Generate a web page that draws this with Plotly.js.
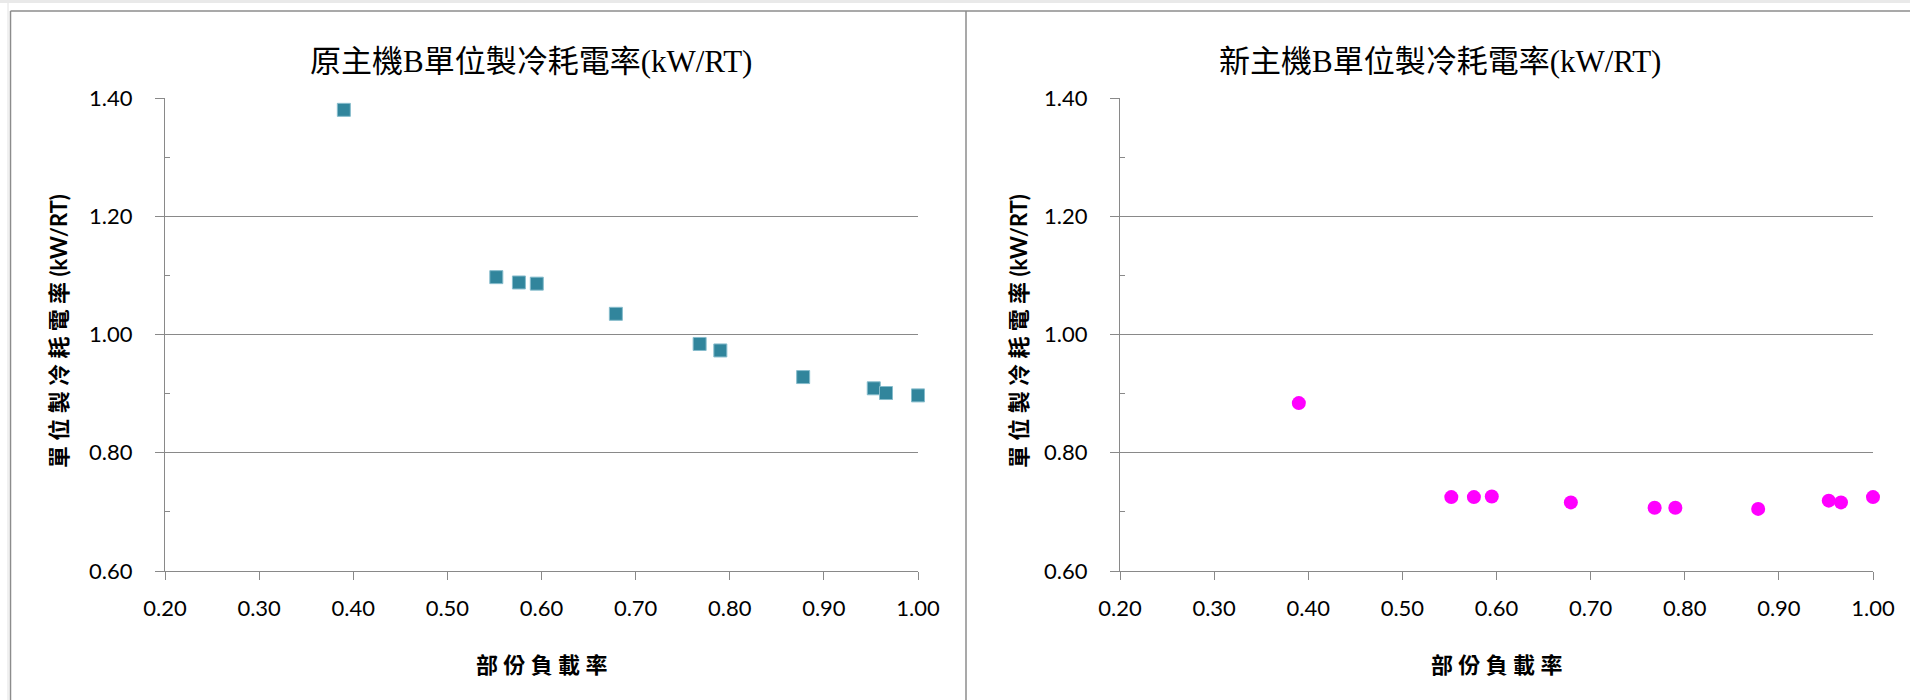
<!DOCTYPE html>
<html>
<head>
<meta charset="utf-8">
<script src="https://cdn.plot.ly/plotly-3.0.1.min.js"></script>
<style>
  html, body { margin: 0; padding: 0; background: #ffffff; }
  #chart { width: 1910px; height: 700px; }
</style>
</head>
<body>
<div id="chart"></div>
<script>
// Part-load ratio of chiller B and its specific power (kW/RT), before and after replacement
const loadRatio = [0.390, 0.552, 0.576, 0.595, 0.679, 0.768, 0.790, 0.878, 0.953, 0.966, 1.000];
const oldKwPerRt = [1.380, 1.097, 1.088, 1.086, 1.035, 0.984, 0.973, 0.928, 0.909, 0.901, 0.897];
const newKwPerRt = [0.884, 0.725, 0.725, 0.726, 0.716, 0.707, 0.707, 0.705, 0.719, 0.716, 0.725];

const xTickVals = [0.2, 0.3, 0.4, 0.5, 0.6, 0.7, 0.8, 0.9, 1.0];
const xTickLabels = ['0.20', '0.30', '0.40', '0.50', '0.60', '0.70', '0.80', '0.90', '1.00'];
const yTickVals = [0.6, 0.8, 1.0, 1.2, 1.4];
const yTickLabels = ['0.60', '0.80', '1.00', '1.20', '1.40'];
const yMinorVals = [0.7, 0.9, 1.1, 1.3];

const chartTitles = ['原主機B單位製冷耗電率(kW/RT)', '新主機B單位製冷耗電率(kW/RT)'];
const xAxisTitle = '部 份 負 載 率';
const yAxisTitle = '單 位 製 冷 耗 電 率 (kW/RT)';

// ---- page geometry (pixels) ----
const W = 1910, H = 700;
const px = v => v / W;
const py = v => 1 - v / H;

const AXIS_GRAY = '#898989';
const TICK_FONT = { family: 'Lato, "Noto Sans CJK TC", sans-serif', size: 22, color: '#000000' };

function xAxis(left, right, yName) {
  return {
    domain: [px(left), px(right)],
    anchor: yName,
    range: [0.2, 1.0],
    tickmode: 'array',
    tickvals: xTickVals,
    ticktext: xTickLabels,
    showgrid: false,
    zeroline: false,
    showline: true,
    linecolor: AXIS_GRAY,
    linewidth: 1,
    ticks: 'outside',
    ticklen: 8,
    tickwidth: 1,
    tickcolor: AXIS_GRAY,
    ticklabelstandoff: 10,
    tickfont: TICK_FONT,
    fixedrange: true
  };
}

function yAxis(xName) {
  return {
    domain: [py(571), py(98)],
    anchor: xName,
    range: [0.6, 1.4],
    tickmode: 'array',
    tickvals: yTickVals,
    ticktext: yTickLabels,
    showgrid: true,
    gridcolor: AXIS_GRAY,
    gridwidth: 1,
    zeroline: false,
    showline: true,
    linecolor: AXIS_GRAY,
    linewidth: 1,
    ticks: 'outside',
    ticklen: 9,
    tickwidth: 1,
    tickcolor: AXIS_GRAY,
    ticklabelstandoff: 18,
    tickfont: TICK_FONT,
    minor: {
      tickmode: 'array',
      tickvals: yMinorVals,
      ticks: 'inside',
      ticklen: 5,
      tickwidth: 1,
      tickcolor: AXIS_GRAY,
      showgrid: false
    },
    fixedrange: true
  };
}

const traces = [
  {
    type: 'scatter', mode: 'markers',
    x: loadRatio, y: oldKwPerRt,
    xaxis: 'x', yaxis: 'y',
    cliponaxis: false,
    marker: { symbol: 'square', size: 13, color: '#31859C', line: { width: 1, color: '#86bccc' } },
    hoverinfo: 'skip'
  },
  {
    type: 'scatter', mode: 'markers',
    x: loadRatio, y: newKwPerRt,
    xaxis: 'x2', yaxis: 'y2',
    cliponaxis: false,
    marker: { symbol: 'circle', size: 14, color: '#FF00FF', line: { width: 0 } },
    hoverinfo: 'skip'
  }
];

const titleFont = { family: '"Liberation Serif", "Noto Sans CJK TC", serif', size: 31, color: '#000000' };
const labelFont = { family: 'Lato, "Noto Sans CJK TC", sans-serif', size: 22, color: '#000000' };

function label(text, x, y, font, angle) {
  return {
    text: text, xref: 'paper', yref: 'paper',
    x: px(x), y: py(y), xanchor: 'center', yanchor: 'middle',
    showarrow: false, font: font, textangle: angle || 0
  };
}

const annotations = [
  label(chartTitles[0], 531, 62, titleFont),
  label(chartTitles[1], 1440, 62, titleFont),
  label('<b>' + xAxisTitle + '</b>', 541, 664, labelFont),
  label('<b>' + xAxisTitle + '</b>', 1496, 664, labelFont),
  label('<b>' + yAxisTitle + '</b>', 58, 331, labelFont, -90),
  label('<b>' + yAxisTitle + '</b>', 1018, 331, labelFont, -90)
];

// chart-area frames
const FRAME = '#8c8c8c';
const shapes = [
  { type: 'rect', xref: 'paper', yref: 'paper', x0: 0, x1: 1, y0: py(3), y1: 1,
    fillcolor: '#e9e9e9', line: { width: 0 }, layer: 'below' },
  { type: 'line', xref: 'paper', yref: 'paper', x0: px(8), x1: px(8), y0: 0, y1: py(3),
    line: { color: '#e2e2e2', width: 1 } },
  { type: 'line', xref: 'paper', yref: 'paper', x0: px(10.5), x1: 1, y0: py(11), y1: py(11),
    line: { color: FRAME, width: 1.5 } },
  { type: 'line', xref: 'paper', yref: 'paper', x0: px(10.5), x1: px(10.5), y0: 0, y1: py(11),
    line: { color: FRAME, width: 1.5 } },
  { type: 'line', xref: 'paper', yref: 'paper', x0: px(966), x1: px(966), y0: 0, y1: py(11),
    line: { color: FRAME, width: 1.5 } }
];

const layout = {
  width: W, height: H,
  margin: { l: 0, r: 0, t: 0, b: 0, pad: 0 },
  paper_bgcolor: '#ffffff',
  plot_bgcolor: '#ffffff',
  showlegend: false,
  xaxis: xAxis(165, 918, 'y'),
  yaxis: yAxis('x'),
  xaxis2: xAxis(1120, 1873, 'y2'),
  yaxis2: yAxis('x2'),
  annotations: annotations,
  shapes: shapes
};

Plotly.newPlot('chart', traces, layout, { displayModeBar: false, staticPlot: true });
</script>
</body>
</html>
